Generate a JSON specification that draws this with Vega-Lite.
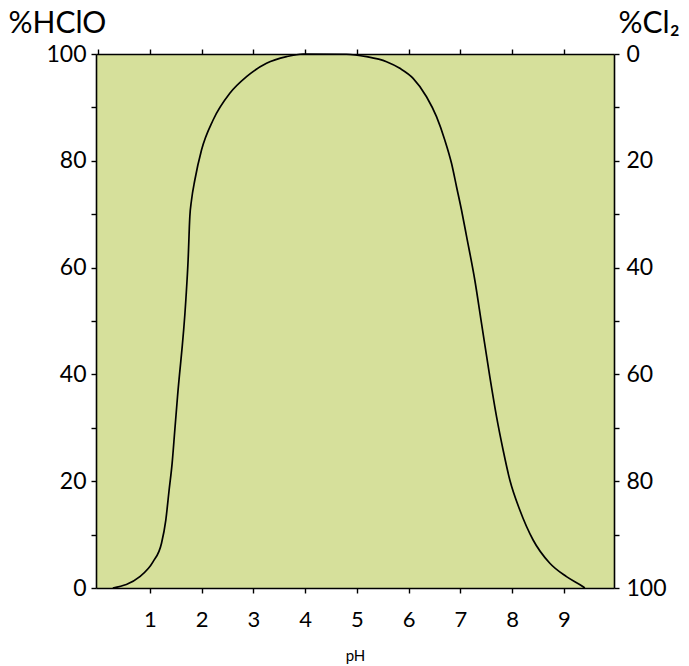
{
  "$schema": "https://vega.github.io/schema/vega-lite/v6.json",
  "width": 518,
  "height": 534,
  "autosize": {"type": "none"},
  "padding": {"left": 96, "top": 54, "right": 75, "bottom": 78},
  "background": "white",
  "config": {
    "view": {"fill": "#d6e09b", "stroke": null},
    "font": "Lato",
    "axis": {
      "domainColor": "black",
      "domainWidth": 1.6,
      "tickColor": "black",
      "tickWidth": 1.4,
      "tickSize": 5,
      "grid": false,
      "labelColor": "black",
      "titleColor": "black",
      "labelFont": "Lato",
      "labelFontWeight": "normal",
      "titleFont": "Lato",
      "titleFontWeight": "normal"
    }
  },
  "data": {
    "values": [
      {"pH": 0.285, "hclo": 0},
      {"pH": 0.807, "hclo": 2.12},
      {"pH": 1.064, "hclo": 4.93},
      {"pH": 1.226, "hclo": 8.37},
      {"pH": 1.309, "hclo": 12.73},
      {"pH": 1.373, "hclo": 18.35},
      {"pH": 1.431, "hclo": 23.35},
      {"pH": 1.483, "hclo": 29.59},
      {"pH": 1.535, "hclo": 35.82},
      {"pH": 1.696, "hclo": 53.93},
      {"pH": 1.74, "hclo": 61.42},
      {"pH": 1.773, "hclo": 69.53},
      {"pH": 1.806, "hclo": 72.66},
      {"pH": 1.87, "hclo": 76.4},
      {"pH": 1.999, "hclo": 82.02},
      {"pH": 2.223, "hclo": 87.64},
      {"pH": 2.546, "hclo": 92.64},
      {"pH": 2.869, "hclo": 95.75},
      {"pH": 3.255, "hclo": 98.26},
      {"pH": 3.642, "hclo": 99.5},
      {"pH": 3.962, "hclo": 100},
      {"pH": 4.801, "hclo": 99.95},
      {"pH": 5.188, "hclo": 99.5},
      {"pH": 5.574, "hclo": 98.56},
      {"pH": 5.831, "hclo": 97.32},
      {"pH": 6.088, "hclo": 95.45},
      {"pH": 6.347, "hclo": 92.0},
      {"pH": 6.54, "hclo": 88.26},
      {"pH": 6.7, "hclo": 83.9},
      {"pH": 6.83, "hclo": 79.53},
      {"pH": 6.927, "hclo": 75.15},
      {"pH": 7.023, "hclo": 70.79},
      {"pH": 7.12, "hclo": 65.9},
      {"pH": 7.28, "hclo": 57.68},
      {"pH": 7.41, "hclo": 49.57},
      {"pH": 7.57, "hclo": 39.57},
      {"pH": 7.7, "hclo": 32.08},
      {"pH": 7.827, "hclo": 25.84},
      {"pH": 7.957, "hclo": 20.22},
      {"pH": 8.15, "hclo": 14.61},
      {"pH": 8.407, "hclo": 8.99},
      {"pH": 8.73, "hclo": 4.63},
      {"pH": 9.052, "hclo": 2.12},
      {"pH": 9.373, "hclo": 0.24},
      {"pH": 9.406, "hclo": 0}
    ]
  },
  "layer": [
    {
      "mark": {"type": "line", "color": "black", "strokeWidth": 1.7, "interpolate": "monotone"},
      "encoding": {
        "x": {
          "field": "pH", "type": "quantitative",
          "scale": {"domain": [-0.04, 9.97], "nice": false, "zero": false},
          "axis": {
            "orient": "bottom",
            "values": [1, 2, 3, 4, 5, 6, 7, 8, 9],
            "labelFontSize": 22,
            "labelPadding": 16,
            "title": "pH",
            "titleFontSize": 15,
            "titlePadding": 18
          }
        },
        "y": {
          "field": "hclo", "type": "quantitative",
          "scale": {"domain": [0, 100], "nice": false},
          "axis": {
            "orient": "left",
            "values": [0, 10, 20, 30, 40, 50, 60, 70, 80, 90, 100],
            "labelExpr": "datum.value % 20 === 0 ? datum.label : ''",
            "labelFontSize": 23,
            "labelPadding": 5,
            "title": "%HClO",
            "titleFontSize": 30,
            "titleAngle": 0,
            "titleAlign": "left",
            "titleBaseline": "alphabetic",
            "titleX": -88,
            "titleY": -22
          }
        }
      }
    },
    {
      "mark": {"type": "line", "opacity": 0},
      "encoding": {
        "x": {
          "field": "pH", "type": "quantitative",
          "axis": {
            "orient": "top",
            "values": [0, 1, 2, 3, 4, 5, 6, 7, 8, 9],
            "labels": false,
            "title": null
          }
        },
        "y": {
          "field": "hclo", "type": "quantitative",
          "axis": {
            "orient": "right",
            "values": [0, 10, 20, 30, 40, 50, 60, 70, 80, 90, 100],
            "labelExpr": "datum.value % 20 === 0 ? format(100 - datum.value, 'd') : ''",
            "labelFontSize": 23,
            "labelPadding": 7,
            "title": "%Cl₂",
            "titleFontSize": 30,
            "titleAngle": 0,
            "titleAlign": "left",
            "titleBaseline": "alphabetic",
            "titleX": 4,
            "titleY": -22
          }
        }
      }
    }
  ],
  "resolve": {"axis": {"x": "independent", "y": "independent"}}
}
